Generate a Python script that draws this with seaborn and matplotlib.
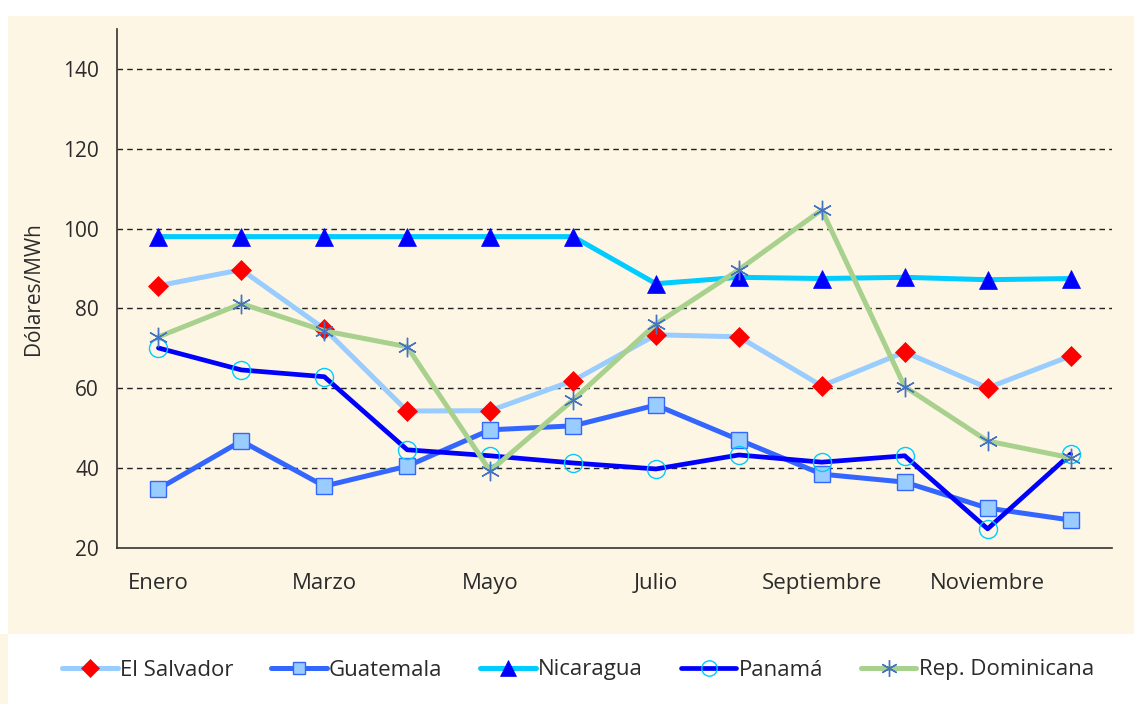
import matplotlib
matplotlib.use("Agg")
import matplotlib.pyplot as plt
from matplotlib.patches import Rectangle
import seaborn as sns
import pandas as pd
import numpy as np

meses = ["Enero", "Febrero", "Marzo", "Abril", "Mayo", "Junio", "Julio",
         "Agosto", "Septiembre", "Octubre", "Noviembre", "Diciembre"]
el_salvador = [85.7, 89.7, 74.9, 54.3, 54.4, 61.9, 73.4, 72.9, 60.6, 69.1, 60.1, 68.1]
guatemala = [34.8, 46.8, 35.5, 40.5, 49.6, 50.6, 55.8, 47.1, 38.5, 36.5, 30.0, 27.0]
nicaragua = [98.0, 98.0, 98.0, 98.0, 98.0, 98.0, 86.2, 87.8, 87.5, 87.8, 87.2, 87.5]
panama = [70.1, 64.6, 62.9, 44.6, 43.1, 41.3, 39.8, 43.3, 41.5, 43.1, 24.8, 43.5]
rep_dominicana = [72.9, 81.2, 74.4, 70.4, 39.3, 57.1, 76.1, 89.7, 104.7, 60.4, 46.8, 42.6]

series = {
    "El Salvador": el_salvador,
    "Guatemala": guatemala,
    "Nicaragua": nicaragua,
    "Panamá": panama,
    "Rep. Dominicana": rep_dominicana,
}

estilos = {
    "El Salvador": dict(color="#99CCFF", lw=3.6, marker="D", ms=10.5,
                        mfc="#FF0000", mec="#FF0000", mew=0.5),
    "Guatemala": dict(color="#3366FF", lw=3.6, marker="s", ms=11,
                      mfc="#99CCFF", mec="#3366FF", mew=1.0),
    "Nicaragua": dict(color="#00CCFF", lw=3.6, marker="^", ms=13.5,
                      mfc="#0000FF", mec="#0000FF", mew=0.5),
    "Panamá": dict(color="#0000FF", lw=3.4, marker="o", ms=13,
                   mfc="none", mec="#00CCFF", mew=1.0),
    "Rep. Dominicana": dict(color="#A9D18E", lw=3.6, marker=(6, 2, 0), ms=14,
                            mfc="#4472C4", mec="#4472C4", mew=1.0),
}

df = pd.DataFrame(series)
df["pos"] = np.arange(len(meses))

sns.set_style("white")
plt.rcParams["font.family"] = ["Open Sans", "DejaVu Sans"]
texto = "#2b2b2b"

fig = plt.figure(figsize=(11.34, 7.04), dpi=100, facecolor="white")
# fondo crema y caja blanca de la leyenda
fig.patches.append(Rectangle((8 / 1134, 70 / 704), 1126 / 1134, 688 / 704 - 70 / 704,
                             transform=fig.transFigure, facecolor="#FEF6E4",
                             edgecolor="none", zorder=-5))
fig.patches.append(Rectangle((0, 0), 8 / 1134, 70 / 704,
                             transform=fig.transFigure, facecolor="#FEF6E4",
                             edgecolor="none", zorder=-5))

ax = fig.add_axes([117 / 1134, 1 - 548 / 704, (1112 - 117) / 1134, (548 - 29) / 704])
ax.set_zorder(2)
ax.set_facecolor("none")

for nombre, vals in series.items():
    st = estilos[nombre]
    sns.lineplot(x=df["pos"], y=df[nombre], ax=ax, label=nombre,
                 color=st["color"], linewidth=st["lw"], marker=st["marker"],
                 markersize=st["ms"], markerfacecolor=st["mfc"],
                 markeredgecolor=st["mec"], markeredgewidth=st["mew"],
                 legend=False, zorder=3)

ax.set_xlim(-0.5, 11.5)
ax.set_ylim(20, 150)
ax.set_yticks(range(20, 141, 20))
ax.set_xticks(np.arange(0, 12, 2))
ax.set_xticklabels([meses[i] for i in range(0, 12, 2)])
ax.set_xticks(np.arange(-0.5, 12, 1), minor=True)
ax.tick_params(axis="x", which="major", length=0, pad=18, labelsize=16, colors=texto)
ax.tick_params(axis="x", which="minor", length=7, width=1.2, color="#333333", direction="out")
ax.tick_params(axis="y", length=7, width=1.2, color="#333333", labelsize=15,
               labelcolor=texto, pad=6, direction="out")

for v in range(40, 141, 20):
    ax.axhline(v, color="#222222", lw=1.0, ls=(0, (4, 3)), zorder=1)

for s in ["top", "right"]:
    ax.spines[s].set_visible(False)
for s in ["left", "bottom"]:
    ax.spines[s].set_color("#333333")
    ax.spines[s].set_linewidth(1.2)

ax.set_xlabel("")
ax.set_ylabel("Dólares/MWh", fontsize=15, color=texto, labelpad=14)

handles, labels = ax.get_legend_handles_labels()
fig.legend(handles, labels, loc="center", bbox_to_anchor=(578 / 1134, 34 / 704), ncol=5,
           frameon=False, fontsize=16, handlelength=2.5, handletextpad=0.1,
           columnspacing=1.7, markerscale=0.85, labelcolor=texto)

fig.savefig("out.png", dpi=100, facecolor=fig.get_facecolor())
